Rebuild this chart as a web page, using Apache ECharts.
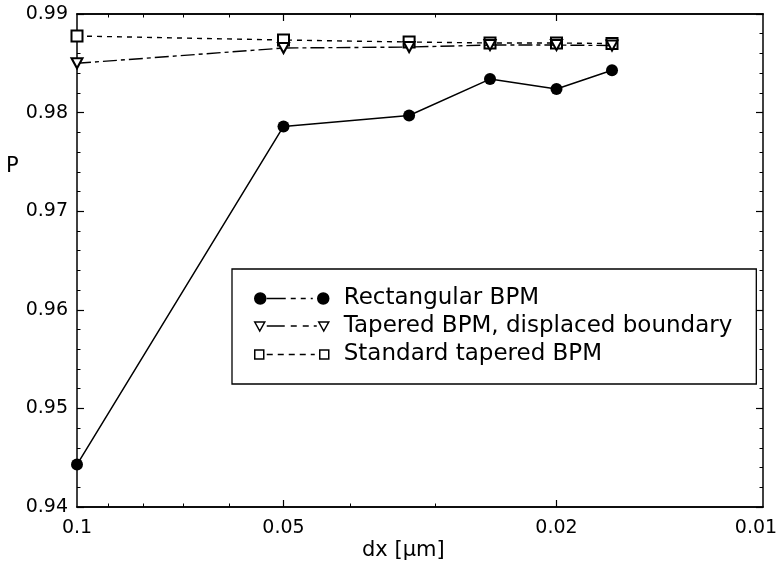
<!DOCTYPE html>
<html>
<head>
<meta charset="utf-8">
<script src="https://cdn.jsdelivr.net/npm/echarts@6/dist/echarts.min.js"></script>
<style>
  html, body { margin: 0; padding: 0; background: #fff; }
  #chart { width: 776px; height: 573px; }
</style>
</head>
<body>
<div id="chart"></div>
<script>
// grid spacing dx [um]
const dxValues = [0.1, 0.05, 0.0328, 0.025, 0.02, 0.0166]
// P for each method
const rectangular = [0.9443, 0.9786, 0.9797, 0.9834, 0.9824, 0.9843]
const taperedDisplaced = [0.9850, 0.98655, 0.98665, 0.98685, 0.98685, 0.9868]
const standardTapered = [0.98777, 0.98736, 0.98716, 0.98706, 0.98706, 0.9870]

const xLabelValues = [0.1, 0.05, 0.02, 0.01]
const xMajorTicks = [0.05, 0.02]
const xMinorTicks = [0.09, 0.08, 0.07, 0.06, 0.04, 0.03]

const FONT = 'DejaVu Sans'
const chart = echarts.init(document.getElementById('chart'))

const pairs = ys => dxValues.map((x, i) => [x, ys[i]])

// legend icons: marker - dashes - marker
const iconRect = 'path://M0 6 A5.5 5.5 0 1 0 11 6 A5.5 5.5 0 1 0 0 6 Z M63 6 A5.5 5.5 0 1 0 74 6 A5.5 5.5 0 1 0 63 6 Z M12 6 L31 6 M36 6 L41 6 M46 6 L51 6 M56 6 L58 6'
const iconTaper = 'path://M0 0 L10 0 L5 9 Z M64 0 L74 0 L69 9 Z M12 4 L30 4 M36 4 L42 4 M48 4 L54 4 M59 4 L62 4'
const iconStd = 'path://M0 0 L9 0 L9 9 L0 9 Z M65 0 L74 0 L74 9 L65 9 Z M12 4.5 L18 4.5 M23 4.5 L29 4.5 M34 4.5 L40 4.5 M45 4.5 L51 4.5 M56 4.5 L60 4.5'

const xBase = (position, extra) => Object.assign({
  type: 'log',
  logBase: 10,
  min: 0.01,
  max: 0.1,
  inverse: true,
  position: position,
  splitLine: { show: false },
  axisLine: { show: true, onZero: false, lineStyle: { color: '#000', width: 1.5 } },
  axisLabel: { show: false },
  axisTick: { show: false }
}, extra)

const yBase = (position, extra) => Object.assign({
  type: 'value',
  min: 0.94,
  max: 0.99,
  interval: 0.01,
  position: position,
  splitLine: { show: false },
  axisLine: { show: true, onZero: false, lineStyle: { color: '#000', width: 1.5 } },
  axisTick: { show: true, inside: true, length: 7, lineStyle: { color: '#000', width: 1.2 } },
  minorTick: { show: true, splitNumber: 5, length: 3.5, lineStyle: { color: '#000', width: 1 } },
  axisLabel: { show: false }
}, extra)

const option = {
  backgroundColor: '#fff',
  animation: false,
  grid: { left: 77, right: 13, top: 14, bottom: 66, containLabel: false, outerBoundsMode: 'none' },
  xAxis: [
    xBase('bottom', {
      axisTick: { show: true, inside: true, length: 7, customValues: xMajorTicks, lineStyle: { color: '#000', width: 1.2 } },
      axisLabel: {
        show: true, customValues: xLabelValues, margin: 12,
        color: '#000', fontFamily: FONT, fontSize: 19,
        formatter: v => {
          const s = String(+(+v).toPrecision(3))
          return +v <= 0.0101 ? '{edge|' + s + '}' : s
        },
        rich: { edge: { fontFamily: FONT, fontSize: 19, color: '#000', padding: [0, 14, 0, 0] } }
      }
    }),
    xBase('bottom', {
      axisTick: { show: true, inside: true, length: 3.5, customValues: xMinorTicks, lineStyle: { color: '#000', width: 1 } }
    }),
    xBase('top', {
      axisTick: { show: true, inside: true, length: 7, customValues: xMajorTicks, lineStyle: { color: '#000', width: 1.2 } }
    }),
    xBase('top', {
      axisTick: { show: true, inside: true, length: 3.5, customValues: xMinorTicks, lineStyle: { color: '#000', width: 1 } }
    })
  ],
  yAxis: [
    yBase('left', {
      axisLabel: {
        show: true, margin: 9, color: '#000', fontFamily: FONT, fontSize: 19,
        formatter: v => v.toFixed(2)
      }
    }),
    yBase('right')
  ],
  legend: {
    orient: 'vertical',
    left: 232,
    top: 269,
    padding: [18, 24, 18, 22],
    itemWidth: 74,
    itemHeight: 12,
    itemGap: 5,
    backgroundColor: '#fff',
    borderColor: '#000',
    borderWidth: 1.3,
    borderRadius: 0,
    textStyle: { color: '#000', fontFamily: FONT, fontSize: 23, lineHeight: 23, padding: [0, 0, 0, 10] },
    data: [
      { name: 'Rectangular BPM', icon: iconRect, itemStyle: { color: '#000', borderColor: '#000', borderWidth: 1.5 } },
      { name: 'Tapered BPM, displaced boundary', icon: iconTaper, itemStyle: { color: '#fff', borderColor: '#000', borderWidth: 1.5 } },
      { name: 'Standard tapered BPM', icon: iconStd, itemStyle: { color: '#fff', borderColor: '#000', borderWidth: 1.5 } }
    ]
  },
  graphic: [
    { type: 'text', left: 6, top: 156, style: { text: 'P', fontFamily: FONT, fontSize: 21, fill: '#000' } },
    { type: 'text', left: 362, top: 540, style: { text: 'dx [μm]', fontFamily: FONT, fontSize: 21, fill: '#000' } }
  ],
  series: [
    {
      name: 'Rectangular BPM',
      type: 'line',
      data: pairs(rectangular),
      symbol: 'circle',
      symbolSize: 12,
      z: 4,
      itemStyle: { color: '#000' },
      lineStyle: { color: '#000', width: 1.5, type: 'solid' }
    },
    {
      name: 'Tapered BPM, displaced boundary',
      type: 'line',
      data: pairs(taperedDisplaced),
      symbol: 'emptyTriangle',
      symbolRotate: 180,
      symbolSize: [11, 10],
      z: 3,
      itemStyle: { color: '#000', borderWidth: 1.3 },
      lineStyle: { color: '#000', width: 1.4, type: [14, 4, 4, 4] }
    },
    {
      name: 'Standard tapered BPM',
      type: 'line',
      data: pairs(standardTapered),
      symbol: 'emptyRect',
      symbolSize: 11,
      z: 2,
      itemStyle: { color: '#000', borderWidth: 1.3 },
      lineStyle: { color: '#000', width: 1.4, type: [5, 5] }
    }
  ]
}

chart.setOption(option)
</script>
</body>
</html>
